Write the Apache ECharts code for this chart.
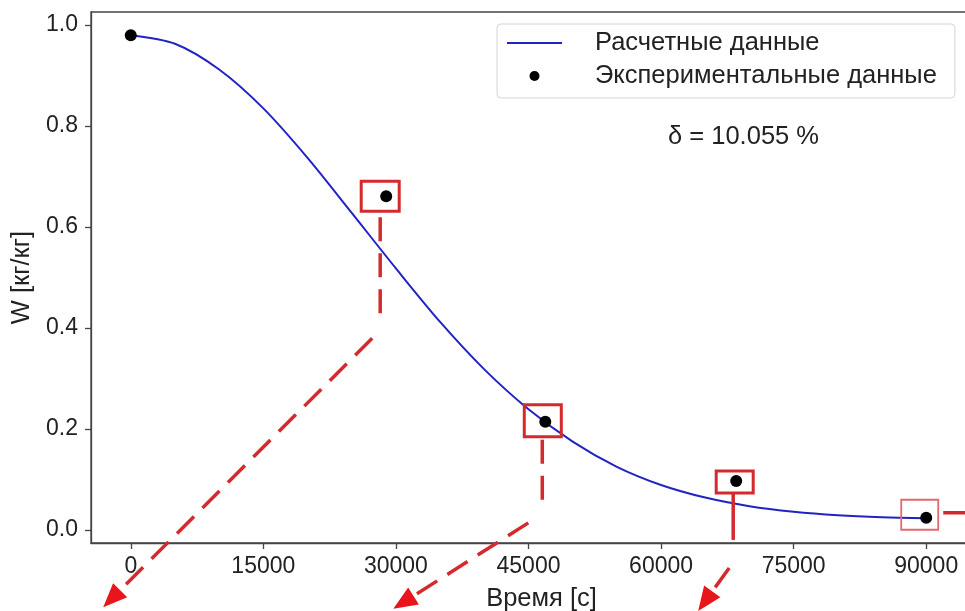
<!DOCTYPE html>
<html>
<head>
<meta charset="utf-8">
<script src="https://cdn.jsdelivr.net/npm/echarts@6/dist/echarts.min.js"></script>
<style>
  html, body { margin: 0; padding: 0; background: #fff; }
  #main { width: 965px; height: 611px; }
</style>
</head>
<body>
<div id="main"></div>
<script>
// values
var timeSec = [0, 5000, 10000, 15000, 20000, 25000, 30000, 35000, 40000, 45000,
               50000, 55000, 60000, 65000, 70000, 75000, 80000, 85000, 90000];
var wCalc = [0.980, 0.963, 0.912, 0.835, 0.737, 0.628, 0.518, 0.412, 0.318, 0.239,
             0.175, 0.125, 0.089, 0.064, 0.047, 0.036, 0.029, 0.025, 0.023];
var expTime = [0, 28900, 46900, 68500, 90000];
var wExp = [0.980, 0.661, 0.214, 0.097, 0.024];
var xTicks = [0, 15000, 30000, 45000, 60000, 75000, 90000];
var yTicks = [0, 0.2, 0.4, 0.6, 0.8, 1.0];

var FONT = "'Liberation Sans', Arial, sans-serif";
var TXT = '#222';
var AX = '#444';
var RED = '#d42a2e';
var BIG = 25.5;

var chart = echarts.init(document.getElementById('main'));

var calcData = timeSec.map(function (t, i) { return [t, wCalc[i]]; });
var expData = expTime.map(function (t, i) { return [t, wExp[i]]; });

chart.setOption({
  animation: false,
  textStyle: { fontFamily: FONT },
  grid: {
    left: 91, top: 12, width: 875, height: 531,
    outerBoundsMode: 'none', containLabel: false,
    show: true, borderColor: AX, borderWidth: 1.3, backgroundColor: '#fff'
  },
  legend: {
    orient: 'vertical', left: 497, top: 24,
    padding: [6, 18, 9, 10],
    borderColor: '#d4d4d4', borderWidth: 1, borderRadius: 4,
    itemWidth: 55, itemHeight: 10, itemGap: 7,
    textStyle: { fontSize: BIG, color: TXT, fontFamily: FONT, padding: [0, 0, 0, 28] },
    data: [
      { name: 'Расчетные данные', icon: 'path://M0,0 L100,0 L100,3.6 L0,3.6 Z' },
      { name: 'Экспериментальные данные', icon: 'circle' }
    ]
  },
  xAxis: {
    type: 'value', min: -4500, max: 94500,
    name: 'Время [с]', nameLocation: 'middle', nameGap: 43,
    nameTextStyle: { fontSize: BIG, color: TXT, fontFamily: FONT, padding: [0, 0, 0, 26] },
    axisLine: { show: true, onZero: false, lineStyle: { color: AX, width: 1.3 } },
    axisTick: { show: true, length: 6, customValues: xTicks, lineStyle: { color: AX, width: 1.3 } },
    axisLabel: {
      customValues: xTicks, margin: 12, fontSize: 23, color: TXT, fontFamily: FONT,
      formatter: function (v) { return String(v); }
    },
    splitLine: { show: false }
  },
  yAxis: {
    type: 'value', min: -0.026, max: 1.026,
    name: 'W [кг/кг]', nameLocation: 'middle', nameGap: 55,
    nameTextStyle: { fontSize: BIG, color: TXT, fontFamily: FONT },
    axisLine: { show: true, onZero: false, lineStyle: { color: AX, width: 1.3 } },
    axisTick: { show: true, length: 6, customValues: yTicks, lineStyle: { color: AX, width: 1.3 } },
    axisLabel: {
      customValues: yTicks, margin: 13, fontSize: 23, color: TXT, fontFamily: FONT,
      formatter: function (v) { return v.toFixed(1); }
    },
    splitLine: { show: false }
  },
  series: [
    {
      name: 'Расчетные данные', type: 'line', data: calcData,
      smooth: 0.3, showSymbol: false, symbol: 'none',
      lineStyle: { color: '#2323c4', width: 2 }, itemStyle: { color: '#2323c4' }, z: 2
    },
    {
      name: 'Экспериментальные данные', type: 'scatter', data: expData,
      symbolSize: 12, itemStyle: { color: '#000', opacity: 1 }, z: 3
    }
  ]
});

// red annotations drawn around the experimental points (offsets in px from each dot)
function px(i) { return chart.convertToPixel({ gridIndex: 0 }, expData[i]); }

function box(i, l, r, t, b, w, color) {
  var p = px(i);
  return {
    type: 'rect', z: 10, silent: true,
    shape: { x: p[0] + l, y: p[1] + t, width: r - l, height: b - t },
    style: { fill: null, stroke: color, lineWidth: w }
  };
}
function seg(i, a, b, dashed) {
  var p = px(i);
  return {
    type: 'polyline', z: 10, silent: true,
    shape: { points: [[p[0] + a[0], p[1] + a[1]], [p[0] + b[0], p[1] + b[1]]] },
    style: { stroke: RED, lineWidth: 3.5, lineDash: dashed ? [24, 12] : null, fill: null }
  };
}
function head(i, from, tip) {
  var p = px(i);
  var tx = p[0] + tip[0], ty = p[1] + tip[1];
  var dx = tip[0] - from[0], dy = tip[1] - from[1];
  var len = Math.sqrt(dx * dx + dy * dy);
  var ux = dx / len, uy = dy / len;
  var L = 24, H = 10;
  var bx = tx - ux * L, by = ty - uy * L;
  return {
    type: 'polygon', z: 11, silent: true,
    shape: { points: [[tx, ty], [bx - uy * H, by + ux * H], [bx + uy * H, by - ux * H]] },
    style: { fill: '#e8151b' }
  };
}
function arrow(i, a, tip) {
  var s = seg(i, a, tip, true);
  var p = px(i);
  // shorten the dashed shaft so it stops at the head
  var dx = tip[0] - a[0], dy = tip[1] - a[1];
  var len = Math.sqrt(dx * dx + dy * dy);
  s.shape.points[1] = [p[0] + tip[0] - dx / len * 20, p[1] + tip[1] - dy / len * 20];
  return [s, head(i, a, tip)];
}

var g = [];
g.push(box(1, -25, 13, -15, 15, 3, RED));
g.push(seg(1, [-6, 21], [-6, 129], true));
g = g.concat(arrow(1, [-14, 142], [-283, 411]));

g.push(box(2, -21, 16, -17, 15, 3, RED));
g.push(seg(2, [-3, 18], [-3, 88], true));
g = g.concat(arrow(2, [-17, 101], [-152, 187]));

g.push(box(3, -20, 17, -10, 12, 3, RED));
g.push(seg(3, [-3, 12], [-3, 59], false));
g = g.concat(arrow(3, [-7, 87], [-38, 130]));

g.push(box(4, -25, 12, -18, 12, 1.8, '#e06a70'));
g.push(seg(4, [17, -5], [40, -5], false));

g.push({
  type: 'text', z: 12, silent: true, left: 668, top: 124,
  style: { text: 'δ = 10.055 %', fontSize: BIG, fontFamily: FONT, fill: TXT }
});

chart.setOption({ graphic: g });
</script>
</body>
</html>
